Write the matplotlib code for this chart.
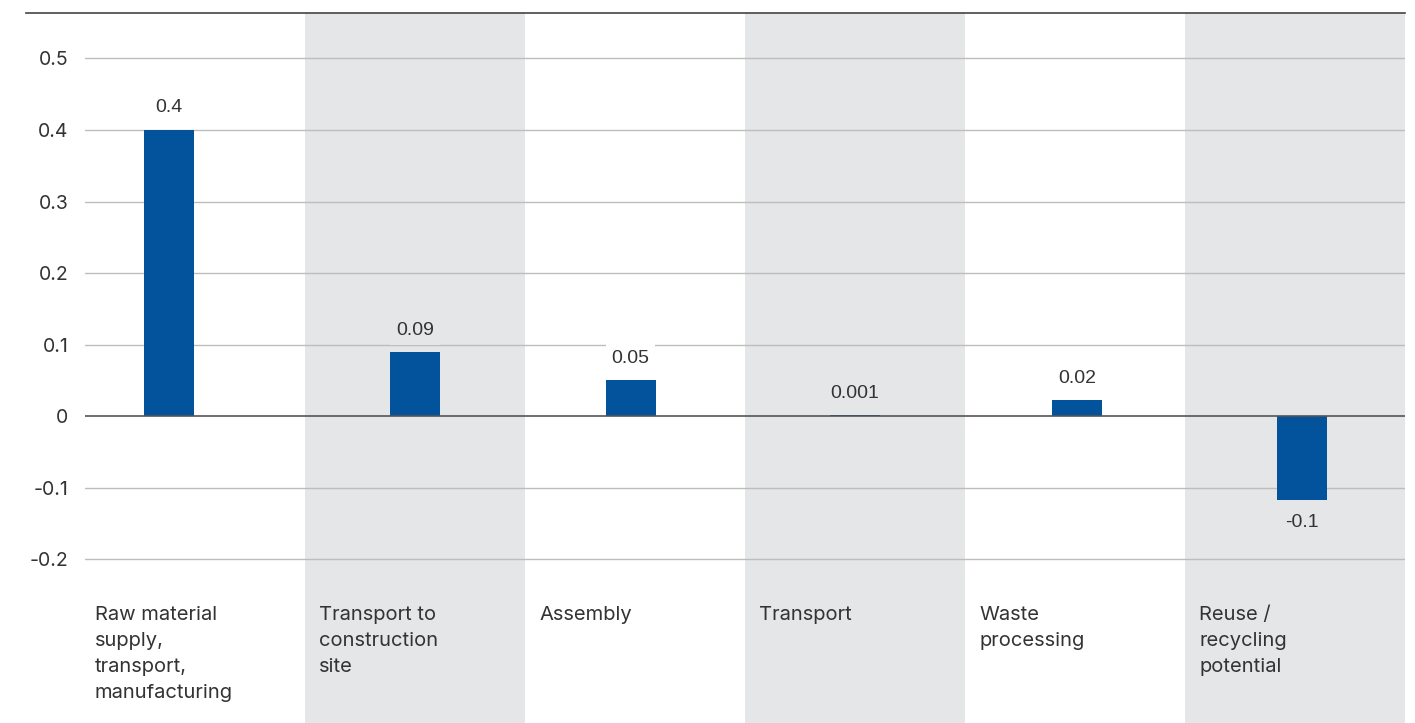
import numpy as np
import matplotlib.pyplot as plt

categories = ["Raw material\nsupply,\ntransport,\nmanufacturing",
              "Transport to\nconstruction\nsite",
              "Assembly",
              "Transport",
              "Waste\nprocessing",
              "Reuse /\nrecycling\npotential"]
values = [0.4, 0.089, 0.05, 0.001, 0.022, -0.117]
value_labels = ["0.4", "0.09", "0.05", "0.001", "0.02", "-0.1"]
yticks = [-0.2, -0.1, 0, 0.1, 0.2, 0.3, 0.4, 0.5]
ytick_labels = ["-0.2", "-0.1", "0", "0.1", "0.2", "0.3", "0.4", "0.5"]

plt.rcParams['font.family'] = ['Inter', 'DejaVu Sans']
text_col = "#333333"
bar_col = "#02529c"
grey = "#e5e6e8"

W, H = 1415, 723
fig = plt.figure(figsize=(W / 100, H / 100), dpi=100)
ax = fig.add_axes([85 / W, 0, 1320 / W, 710 / H])
ax.set_xlim(-0.5, 5.5)
ax.set_ylim(-0.429, 0.5636)

# alternating column backgrounds
bgs = []
for i in range(len(categories)):
    bg = grey if i % 2 == 1 else "white"
    bgs.append(bg)
    if i % 2 == 1:
        ax.axvspan(i - 0.5, i + 0.5, color=grey, zorder=0, lw=0)

for t in yticks:
    if t == 0:
        continue
    ax.axhline(t, color="#bdbdbd", lw=1.0, zorder=1)
ax.axhline(0, color="#555555", lw=1.2, zorder=3)

# bars sit slightly off-centre in some columns
shift = np.array([-0.12, 0, -0.02, 0, 0.01, 0.03])
x = np.arange(len(categories)) + shift
ax.bar(x, values, width=0.227, color=bar_col, zorder=2)

for xi, v, lab, bg in zip(x, values, value_labels, bgs):
    off = 16 if v >= 0 else -16
    ax.annotate(lab, (xi, v), xytext=(0, off), textcoords="offset points",
                ha="center", va="center", fontsize=14, color=text_col, zorder=4,
                family=["Liberation Sans"],
                bbox=dict(boxstyle="square,pad=0.3", fc=bg, ec="none"))

for i, c in enumerate(categories):
    off = 0.045 if i == 0 else 0.065
    ax.text(i - 0.5 + off, -0.266, c, ha="left", va="top", fontsize=14.5,
            color=text_col, linespacing=1.55)

ax.set_yticks(yticks)
ax.set_yticklabels(ytick_labels, fontsize=14, color=text_col)
ax.tick_params(axis="y", length=0, pad=12)
ax.set_xticks([])
for s in ax.spines.values():
    s.set_visible(False)

# top rule
fig.add_artist(plt.Line2D([26 / W, 1405 / W], [1 - 13 / H, 1 - 13 / H],
                          color="#444444", lw=1.2))

fig.savefig("out.png", dpi=100)
